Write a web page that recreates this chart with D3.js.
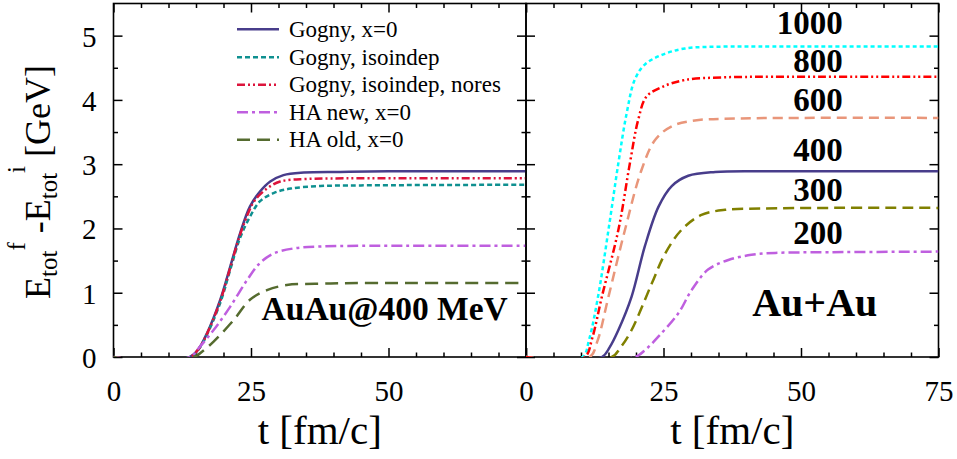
<!DOCTYPE html>
<html>
<head>
<meta charset="utf-8">
<script src="https://cdn.jsdelivr.net/npm/d3@7"></script>
<style>
body { margin: 0; background: #fff; }
text { font-family: "Liberation Serif", "Times New Roman", serif; }
</style>
</head>
<body>
<div id="chart"></div>
<script>
// datos (t en fm/c, E en GeV)
var legendNames = ['Gogny, x=0', 'Gogny, isoindep', 'Gogny, isoindep, nores', 'HA new, x=0', 'HA old, x=0']

var tGogny = [0, 5, 13.9, 15.5, 17.0, 19.4, 21.2, 23.0, 24.8, 26.6, 28.5, 30.9, 34.6, 41.2, 50, 75]
var eGogny = [0, -0.05, 0, 0.13, 0.37, 0.89, 1.40, 1.92, 2.34, 2.57, 2.73, 2.83, 2.87, 2.88, 2.89, 2.89]
var tIsoindep = [0, 5, 13.9, 15.5, 17.0, 19.4, 21.2, 23.0, 24.8, 26.6, 29.1, 32.2, 37.6, 45, 75]
var eIsoindep = [0, -0.05, 0, 0.12, 0.35, 0.84, 1.35, 1.85, 2.18, 2.42, 2.55, 2.62, 2.66, 2.67, 2.68]
var tNores = [0, 5, 13.9, 15.5, 17.0, 19.4, 21.2, 23.0, 24.8, 25.7, 27.9, 30.3, 35.2, 45, 75]
var eNores = [0, -0.05, 0, 0.13, 0.36, 0.87, 1.38, 1.9, 2.3, 2.44, 2.62, 2.73, 2.77, 2.78, 2.78]
var tHAnew = [0, 5, 14, 15.2, 18.2, 21.2, 24.3, 26.6, 29.1, 32.8, 37.6, 45, 75]
var eHAnew = [0, -0.05, 0, 0.11, 0.42, 0.78, 1.2, 1.46, 1.61, 1.69, 1.72, 1.73, 1.73]
var tHAold = [0, 5, 14.6, 16.2, 18.2, 21.9, 24.8, 27.9, 31.5, 37.6, 45, 75]
var eHAold = [0, -0.05, 0, 0.09, 0.24, 0.58, 0.89, 1.04, 1.12, 1.14, 1.15, 1.15]

var energies = ['200', '300', '400', '600', '1000', '800']
var t200 = [0, 5, 19.8, 21.8, 24.1, 27.7, 30.1, 33.1, 36.8, 41.0, 45.3, 55, 75]
var e200 = [0, -0.05, 0, 0.12, 0.32, 0.68, 1.04, 1.36, 1.51, 1.59, 1.62, 1.63, 1.64]
var t300 = [0, 5, 15.6, 17.2, 19.2, 22.9, 25.3, 28.3, 31.9, 36.2, 42.8, 55, 75]
var e300 = [0, -0.05, 0, 0.15, 0.42, 1.15, 1.61, 1.98, 2.21, 2.29, 2.31, 2.32, 2.32]
var t400 = [0, 5, 13.8, 15.2, 16.8, 19.2, 21.6, 24.1, 26.5, 29.5, 34.4, 45, 75]
var e400 = [0, -0.05, 0, 0.15, 0.42, 0.94, 1.72, 2.34, 2.66, 2.82, 2.88, 2.89, 2.89]
var t600 = [0, 5, 11.6, 13.0, 15.0, 18.0, 21.0, 23.5, 26.5, 30.7, 38, 50, 75]
var e600 = [0, -0.05, 0, 0.25, 0.94, 1.98, 2.91, 3.38, 3.59, 3.68, 3.71, 3.72, 3.72]
var t1000 = [0, 5, 10.3, 11.5, 13.1, 15.0, 16.8, 18.3, 19.8, 21.6, 24.7, 28.9, 36.2, 45, 75]
var e1000 = [0, -0.05, 0, 0.28, 0.94, 1.98, 3.02, 3.79, 4.32, 4.55, 4.70, 4.80, 4.83, 4.83, 4.83]
var t800 = [0, 5, 10.7, 12.0, 13.8, 16.8, 18.9, 20.4, 21.9, 24.7, 28.9, 35.6, 45, 75]
var e800 = [0, -0.05, 0, 0.28, 0.94, 1.98, 3.02, 3.69, 4.05, 4.20, 4.31, 4.35, 4.36, 4.36]

var xTicks = [0, 25, 50, 75]
var yTicks = [0, 1, 2, 3, 4, 5]

var width = 957
var height = 459

var svg = d3.select('#chart')
    .append('svg')
    .attr('width', width)
    .attr('height', height)

// escalas
var scaleY = d3.scaleLinear().domain([0, 5.5]).range([357, 3.5])
var scaleXL = d3.scaleLinear().domain([0, 75]).range([113.5, 526])
var scaleXR = d3.scaleLinear().domain([0, 75]).range([526, 938.5])

function zip(ts, es) {
    return ts.map((t, i) => ({t: t, e: es[i]}))
}

var leftSeries = [
    {name: legendNames[0], data: zip(tGogny, eGogny), color: '#483d8b', dash: null},
    {name: legendNames[1], data: zip(tIsoindep, eIsoindep), color: '#0f9090', dash: '5,3'},
    {name: legendNames[2], data: zip(tNores, eNores), color: '#dc143c', dash: '8,3,2,3,2,3'},
    {name: legendNames[3], data: zip(tHAnew, eHAnew), color: '#bf5fdf', dash: '11,4,3,4'},
    {name: legendNames[4], data: zip(tHAold, eHAold), color: '#556b2f', dash: '13,7'}
]

var rightSeries = [
    {name: energies[0], data: zip(t200, e200), color: '#bf5fdf', dash: '11,4,3,4'},
    {name: energies[1], data: zip(t300, e300), color: '#808000', dash: '11,6'},
    {name: energies[2], data: zip(t400, e400), color: '#483d8b', dash: null},
    {name: energies[3], data: zip(t600, e600), color: '#e9967a', dash: '10,6'},
    {name: energies[4], data: zip(t1000, e1000), color: '#00ffff', dash: '4,3'},
    {name: energies[5], data: zip(t800, e800), color: '#ff0000', dash: '8,3,2,3,2,3'}
]

function panel(id, scaleX, series, xLabels, yLabels) {
    var g = svg.append('g').attr('class', id)
    var x0 = scaleX.range()[0], x1 = scaleX.range()[1]
    var y0 = scaleY.range()[0], y1 = scaleY.range()[1]

    g.append('clipPath').attr('id', 'clip-' + id)
        .append('rect')
        .attr('x', x0).attr('y', y1)
        .attr('width', x1 - x0).attr('height', y0 - y1)

    //marco
    g.append('rect')
        .attr('x', x0).attr('y', y1)
        .attr('width', x1 - x0).attr('height', y0 - y1)
        .attr('fill', 'none')
        .attr('stroke', 'black')
        .attr('stroke-width', 1.6)

    var minorX = d3.range(0, 76, 5).filter(d => d % 25 != 0)
    var minorY = d3.range(0.5, 5.5, 1)

    //ejes: [constructor, valores, posicion, menores, etiquetas]
    var axes = [
        [() => d3.axisBottom(scaleX), xTicks, 'translate(0,' + y0 + ')', minorX, xLabels],
        [() => d3.axisTop(scaleX), xTicks, 'translate(0,' + y1 + ')', minorX, false],
        [() => d3.axisLeft(scaleY), yTicks, 'translate(' + x0 + ',0)', minorY, yLabels],
        [() => d3.axisRight(scaleY), yTicks, 'translate(' + x1 + ',0)', minorY, false]
    ]
    axes.forEach(function(a, k) {
        var major = a[0]().tickValues(a[1]).tickSizeInner(-9).tickSizeOuter(0)
        if (a[4]) {
            major.tickFormat(d => a[4].indexOf(d) >= 0 ? d : '')
        } else {
            major.tickFormat('')
        }
        var ax = g.append('g').attr('transform', a[2]).call(major)
        ax.select('.domain').remove()
        ax.selectAll('line').attr('stroke', 'black').attr('stroke-width', 1.5)
        ax.selectAll('text')
            .attr('fill', 'black')
            .style('font-size', '29px')
            .style('font-family', '"Liberation Serif", serif')
        if (k == 0) ax.selectAll('text').attr('y', 23)
        if (k == 2) ax.selectAll('text').attr('x', -17).attr('dy', '0.36em')

        var minor = a[0]().tickValues(a[3]).tickSizeInner(-4.5).tickSizeOuter(0).tickFormat('')
        var mx = g.append('g').attr('transform', a[2]).call(minor)
        mx.select('.domain').remove()
        mx.selectAll('line').attr('stroke', 'black').attr('stroke-width', 1.5)
    })

    //curvas
    var line = d3.line()
        .x(d => scaleX(d.t))
        .y(d => scaleY(d.e))
        .curve(d3.curveCatmullRom.alpha(0.5))

    g.append('g')
        .attr('clip-path', 'url(#clip-' + id + ')')
        .selectAll('path')
        .data(series)
        .enter()
        .append('path')
        .attr('d', d => line(d.data))
        .attr('fill', 'none')
        .attr('stroke', d => d.color)
        .attr('stroke-width', 2.5)
        .attr('stroke-dasharray', d => d.dash)
    return g
}

var left = panel('left', scaleXL, leftSeries, [0, 25, 50], yTicks)
var right = panel('right', scaleXR, rightSeries, xTicks, false)

//leyenda
var legendY = [29.3, 57.2, 84.8, 112.3, 139.8]
var legend = left.append('g')
    .selectAll('g')
    .data(leftSeries)
    .enter()
    .append('g')
    .attr('transform', (d, i) => 'translate(0,' + legendY[i] + ')')
legend.append('line')
    .attr('x1', 237).attr('x2', 279)
    .attr('stroke', d => d.color)
    .attr('stroke-width', 2.5)
    .attr('stroke-dasharray', d => d.dash)
legend.append('text')
    .attr('x', 289)
    .attr('y', 7.5)
    .attr('font-size', '23px')
    .text(d => d.name)

//etiquetas de energia
var labelPos = {'1000': 5.02, '800': 4.44, '600': 3.83, '400': 3.05, '300': 2.43, '200': 1.76}
right.append('g')
    .selectAll('text')
    .data(energies)
    .enter()
    .append('text')
    .attr('x', scaleXR(57.6))
    .attr('y', d => scaleY(labelPos[d]))
    .attr('text-anchor', 'end')
    .attr('font-size', '33px')
    .attr('font-weight', 'bold')
    .text(d => d)

right.append('text')
    .attr('x', scaleXR(52.5))
    .attr('y', 316)
    .attr('text-anchor', 'middle')
    .attr('font-size', '40px')
    .attr('font-weight', 'bold')
    .text('Au+Au')

left.append('text')
    .attr('x', scaleXL(49.3))
    .attr('y', 320)
    .attr('text-anchor', 'middle')
    .attr('font-size', '33.5px')
    .attr('font-weight', 'bold')
    .text('AuAu@400 MeV')

//titulos de ejes
svg.append('text')
    .attr('x', (scaleXL.range()[0] + scaleXL.range()[1]) / 2)
    .attr('y', 444)
    .attr('text-anchor', 'middle')
    .attr('font-size', '41px')
    .text('t [fm/c]')
svg.append('text')
    .attr('x', (scaleXR.range()[0] + scaleXR.range()[1]) / 2)
    .attr('y', 444)
    .attr('text-anchor', 'middle')
    .attr('font-size', '41px')
    .text('t [fm/c]')

var ylab = svg.append('text')
    .attr('transform', 'translate(50,182) rotate(-90)')
    .attr('text-anchor', 'middle')
    .attr('font-size', '36px')
ylab.append('tspan').text('E')
ylab.append('tspan').attr('dy', 7).attr('font-size', '25px').text('tot')
ylab.append('tspan').attr('dy', -32).attr('font-size', '25px').text('f')
ylab.append('tspan').attr('dy', 25).text(' -E')
ylab.append('tspan').attr('dy', 7).attr('font-size', '25px').text('tot')
ylab.append('tspan').attr('dy', -32).attr('font-size', '25px').text('i')
ylab.append('tspan').attr('dy', 25).text(' [GeV]')
</script>
</body>
</html>
